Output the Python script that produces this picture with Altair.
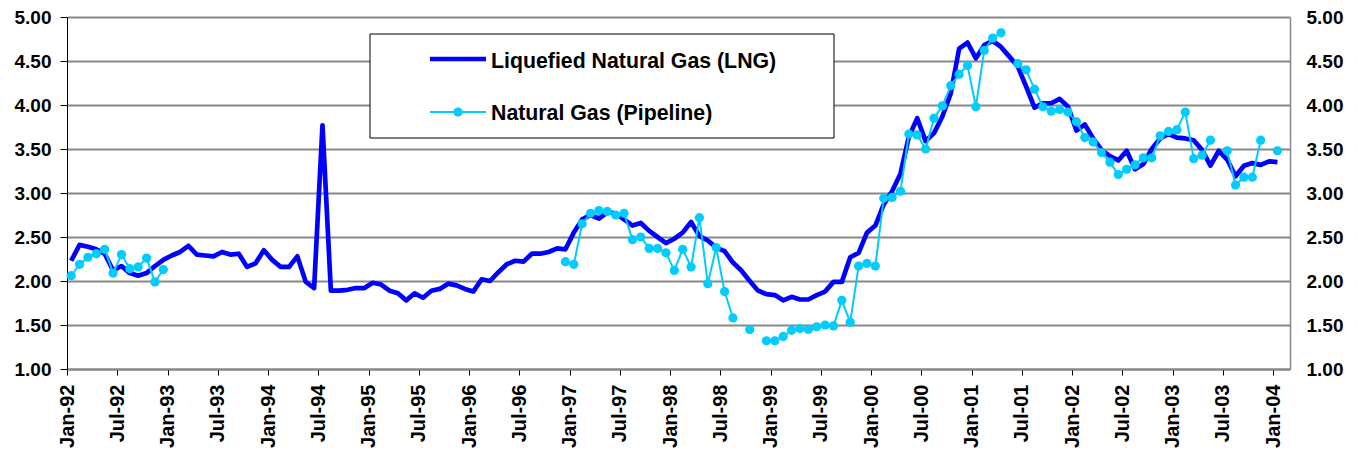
import altair as alt
import pandas as pd

# ---------------- data ----------------
tick_labels = ["Jan-92", "Jul-92", "Jan-93", "Jul-93", "Jan-94", "Jul-94", "Jan-95",
               "Jul-95", "Jan-96", "Jul-96", "Jan-97", "Jul-97", "Jan-98", "Jul-98",
               "Jan-99", "Jul-99", "Jan-00", "Jul-00", "Jan-01", "Jul-01", "Jan-02",
               "Jul-02", "Jan-03", "Jul-03", "Jan-04"]

# monthly, Jan-92 .. Jan-04
lng = [2.23, 2.41, 2.39, 2.36, 2.31, 2.12, 2.17, 2.09, 2.06, 2.09, 2.17, 2.24,
       2.29, 2.33, 2.40, 2.30, 2.29, 2.28, 2.33, 2.30, 2.31, 2.16, 2.20, 2.35,
       2.24, 2.16, 2.16, 2.28, 1.99, 1.92, 3.77, 1.89, 1.89, 1.90, 1.92, 1.92,
       1.98, 1.96, 1.89, 1.86, 1.78, 1.86, 1.81, 1.89, 1.91, 1.97, 1.95, 1.91,
       1.88, 2.02, 2.00, 2.10, 2.19, 2.23, 2.22, 2.31, 2.31, 2.33, 2.37, 2.36,
       2.55, 2.70, 2.75, 2.71, 2.78, 2.77, 2.70, 2.63, 2.66, 2.57, 2.50, 2.43,
       2.48, 2.55, 2.67, 2.51, 2.46, 2.38, 2.34, 2.21, 2.12, 2.00, 1.89, 1.85,
       1.84, 1.78, 1.82, 1.79, 1.79, 1.84, 1.88, 1.99, 1.99, 2.27, 2.32, 2.55,
       2.63, 2.87, 3.02, 3.22, 3.64, 3.85, 3.59, 3.68, 3.87, 4.13, 4.64, 4.71,
       4.53, 4.68, 4.73, 4.66, 4.55, 4.44, 4.21, 3.97, 4.02, 4.02, 4.07, 3.98,
       3.71, 3.78, 3.62, 3.49, 3.42, 3.37, 3.48, 3.27, 3.33, 3.50, 3.62, 3.67,
       3.63, 3.62, 3.60, 3.49, 3.31, 3.48, 3.38, 3.19, 3.31, 3.34, 3.32, 3.36,
       3.35]

pipeline = [2.06, 2.19, 2.27, 2.31, 2.36, 2.09, 2.30, 2.14, 2.16, 2.26, 1.99, 2.13,
            None, None, None, None, None, None, None, None, None, None, None, None,
            None, None, None, None, None, None, None, None, None, None, None, None,
            None, None, None, None, None, None, None, None, None, None, None, None,
            None, None, None, None, None, None, None, None, None, None, None, 2.22,
            2.19, 2.65, 2.77, 2.80, 2.79, 2.75, 2.77, 2.47, 2.50, 2.37, 2.37, 2.32,
            2.12, 2.36, 2.16, 2.72, 1.97, 2.38, 1.88, 1.58, None, 1.45, None, 1.32,
            1.32, 1.37, 1.44, 1.46, 1.45, 1.48, 1.50, 1.49, 1.78, 1.53, 2.17, 2.20,
            2.17, 2.94, 2.95, 3.02, 3.67, 3.66, 3.50, 3.85, 3.99, 4.22, 4.35, 4.45,
            3.98, 4.62, 4.76, 4.82, None, 4.47, 4.40, 4.18, 3.98, 3.93, 3.95, 3.92,
            3.81, 3.63, 3.58, 3.46, 3.35, 3.21, 3.27, 3.32, 3.40, 3.40, 3.65, 3.70,
            3.72, 3.92, 3.39, 3.43, 3.60, None, 3.48, 3.09, 3.18, 3.18, 3.60, None,
            3.48]

series_names = ["Liquefied Natural Gas (LNG)", "Natural Gas (Pipeline)"]
y_ticks = [1.0, 1.5, 2.0, 2.5, 3.0, 3.5, 4.0, 4.5, 5.0]

# ---------------- tables ----------------
df_lng = pd.DataFrame({"m": [i + 0.5 for i in range(len(lng))], "v": lng})
rows, seg = [], 0
for i, v in enumerate(pipeline):
    if v is None:
        seg += 1
        continue
    rows.append({"m": i + 0.5, "v": v, "seg": seg})
df_pipe = pd.DataFrame(rows)

FONT = "Liberation Sans"
LNG_C = "#0000FF"
PIPE_C = "#00CCFF"
GRID_C = "#878787"

label_js = "[" + ",".join("'" + t + "'" for t in tick_labels) + "][round(datum.value / 6)]"

x_scale = alt.Scale(domain=[0, 146], nice=False, zero=False)
y_scale = alt.Scale(domain=[1, 5], nice=False, zero=False)

x_axis = alt.Axis(values=list(range(0, 145, 6)), labelExpr=label_js, labelAngle=270,
                  labelFont=FONT, labelFontSize=20, labelFontWeight="bold", labelColor="black",
                  labelPadding=9, labelFlush=False, labelOverlap=False,
                  tickColor="black", tickSize=6, tickWidth=1,
                  domainColor=GRID_C, domainWidth=2, grid=False, title=None)
x_enc = alt.X("m:Q", scale=x_scale, axis=x_axis)

y_left = alt.Axis(values=y_ticks, format=".2f", orient="left",
                  labelFont=FONT, labelFontSize=19, labelFontWeight="bold", labelColor="black",
                  labelPadding=9, tickColor="black", tickSize=7, tickWidth=1,
                  domainColor="black", domainWidth=1,
                  grid=True, gridColor=GRID_C, gridWidth=2, title=None)
y_right = alt.Axis(values=y_ticks, format=".2f", orient="right",
                   labelFont=FONT, labelFontSize=19, labelFontWeight="bold", labelColor="black",
                   labelPadding=16, tickSize=0,
                   domainColor=GRID_C, domainWidth=1.5, grid=False, title=None)

lng_line = alt.Chart(df_lng).mark_line(color=LNG_C, strokeWidth=4.7, strokeJoin="round").encode(
    x=x_enc, y=alt.Y("v:Q", scale=y_scale, axis=y_left))

pipe_line = alt.Chart(df_pipe).mark_line(color=PIPE_C, strokeWidth=2).encode(
    x=x_enc, y=alt.Y("v:Q", scale=y_scale, axis=y_right), detail="seg:N")

pipe_pts = alt.Chart(df_pipe).mark_circle(color=PIPE_C, size=85, opacity=1).encode(
    x=x_enc, y=alt.Y("v:Q", scale=y_scale, axis=None))

# ---------------- legend (decoration) ----------------
one = pd.DataFrame({"k": [0]})
leg_box = alt.Chart(one).mark_rect(fill="white", stroke="black", strokeWidth=1).encode(
    x=alt.value(303), x2=alt.value(767), y=alt.value(17), y2=alt.value(121))
leg_l1 = alt.Chart(one).mark_rule(color=LNG_C, strokeWidth=4.7).encode(
    x=alt.value(363), x2=alt.value(419), y=alt.value(42))
leg_l2 = alt.Chart(one).mark_rule(color=PIPE_C, strokeWidth=2).encode(
    x=alt.value(363), x2=alt.value(419), y=alt.value(95))
leg_pt = alt.Chart(one).mark_circle(color=PIPE_C, size=85, opacity=1).encode(
    x=alt.value(391), y=alt.value(95))
leg_t1 = alt.Chart(one).mark_text(align="left", baseline="alphabetic", font=FONT, fontSize=21.3,
                                  fontWeight="bold", color="black").encode(
    x=alt.value(424), y=alt.value(51), text=alt.value(series_names[0]))
leg_t2 = alt.Chart(one).mark_text(align="left", baseline="alphabetic", font=FONT, fontSize=21.3,
                                  fontWeight="bold", color="black").encode(
    x=alt.value(424), y=alt.value(103), text=alt.value(series_names[1]))

chart = alt.layer(
    lng_line, pipe_line, pipe_pts, leg_box, leg_l1, leg_l2, leg_pt, leg_t1, leg_t2
).resolve_axis(y="independent").properties(
    width=1223, height=352,
    padding={"left": 59, "top": 9, "right": 60, "bottom": 80},
    autosize=alt.AutoSizeParams(type="none"),
    background="white",
).configure_view(stroke=None)

chart.save("out.html", embed_options={"renderer": "svg", "actions": False})
